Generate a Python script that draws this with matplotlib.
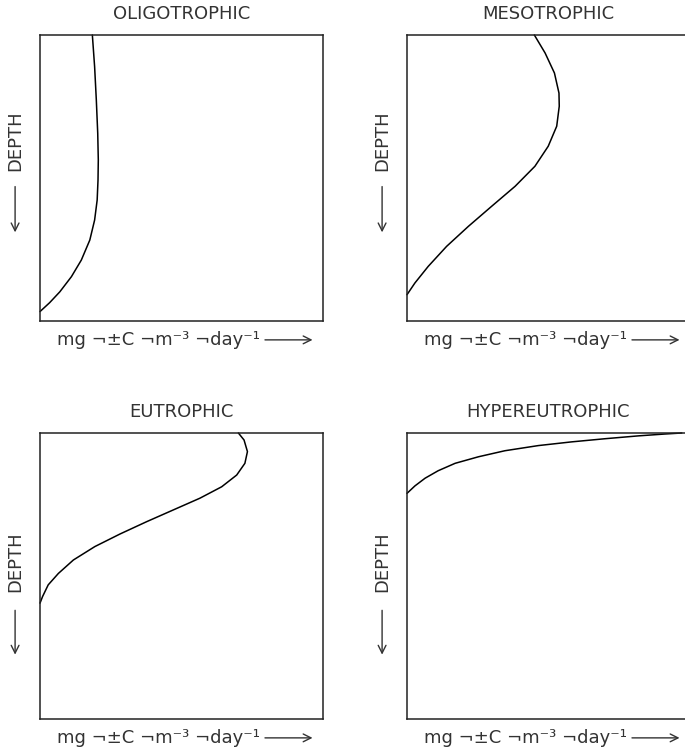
import numpy as np
import matplotlib
matplotlib.use("Agg")
import matplotlib.pyplot as plt

# panel titles, in reading order
titles = ["OLIGOTROPHIC", "MESOTROPHIC", "EUTROPHIC", "HYPEREUTROPHIC"]

# production (fraction of panel width) vs depth (fraction of panel height, 0 = surface)
oligo_depth = [0.0, 0.111, 0.227, 0.344, 0.437, 0.507, 0.577, 0.647, 0.717, 0.787,
               0.845, 0.898, 0.936, 0.967]
oligo_prod = [0.185, 0.193, 0.199, 0.204, 0.206, 0.205, 0.202, 0.193, 0.176, 0.146,
              0.111, 0.070, 0.034, 0.0]

meso_depth = [0.0, 0.063, 0.133, 0.203, 0.249, 0.319, 0.389, 0.459, 0.529, 0.599,
              0.669, 0.739, 0.809, 0.867, 0.908]
meso_prod = [0.450, 0.488, 0.521, 0.537, 0.538, 0.529, 0.499, 0.452, 0.382, 0.299,
             0.217, 0.140, 0.075, 0.028, 0.0]

eu_depth = [0.0, 0.0245, 0.065, 0.106, 0.147, 0.188, 0.228, 0.269, 0.310, 0.353,
            0.397, 0.444, 0.491, 0.531, 0.572, 0.595]
eu_prod = [0.701, 0.721, 0.733, 0.724, 0.695, 0.642, 0.565, 0.471, 0.377, 0.283,
           0.194, 0.118, 0.065, 0.029, 0.009, 0.0]

hyper_depth = [0.211, 0.185, 0.158, 0.132, 0.106, 0.083, 0.062, 0.044, 0.031, 0.020,
               0.010, 0.0035, 0.0]
hyper_prod = [0.0, 0.028, 0.064, 0.110, 0.170, 0.253, 0.346, 0.464, 0.582, 0.700,
              0.818, 0.912, 0.971]

curves = [(oligo_prod, oligo_depth), (meso_prod, meso_depth),
          (eu_prod, eu_depth), (hyper_prod, hyper_depth)]

# where the "DEPTH" label sits (axes fraction), top row vs bottom row
depth_text_y = [0.63, 0.63, 0.55, 0.55]
depth_arrow_y = [(0.47, 0.31), (0.47, 0.31), (0.38, 0.225), (0.38, 0.225)]

plt.rcParams['font.family'] = ['DejaVu Sans']
txt_col = "#333333"

fig = plt.figure(figsize=(6.85, 7.52), dpi=100)

W, H = 685.0, 752.0
lefts = [40, 407, 40, 407]
tops = [35, 35, 433, 433]
pw, ph = 283, 286

for i in range(4):
    ax = fig.add_axes([lefts[i] / W, 1 - (tops[i] + ph) / H, pw / W, ph / H])
    x, y = curves[i]
    ax.plot(x, y, color="black", lw=1.1, solid_joinstyle="round",
            solid_capstyle="round", clip_on=False)
    ax.set_xlim(0, 1)
    ax.set_ylim(1, 0)
    ax.set_xticks([])
    ax.set_yticks([])
    for s in ax.spines.values():
        s.set_linewidth(1.1)
        s.set_color("#222222")

    ax.text(0.5, 1.072, titles[i], transform=ax.transAxes, ha="center", va="center",
            fontsize=13, color=txt_col)

    # x label with long arrow
    ax.text(0.06, -0.066, "mg ¬±C ¬m⁻³ ¬day⁻¹", transform=ax.transAxes,
            ha="left", va="center", fontsize=13, color=txt_col)
    ax.annotate("", xy=(0.963, -0.066), xytext=(0.795, -0.066),
                xycoords="axes fraction", textcoords="axes fraction",
                arrowprops=dict(arrowstyle="->", color=txt_col, lw=1.0,
                                mutation_scale=14, shrinkA=0, shrinkB=0),
                annotation_clip=False)

    # DEPTH label with downward arrow
    ax.text(-0.088, depth_text_y[i], "DEPTH", transform=ax.transAxes, rotation=90,
            ha="center", va="center", fontsize=13, color=txt_col)
    a0, a1 = depth_arrow_y[i]
    ax.annotate("", xy=(-0.088, a1), xytext=(-0.088, a0),
                xycoords="axes fraction", textcoords="axes fraction",
                arrowprops=dict(arrowstyle="->", color=txt_col, lw=1.0,
                                mutation_scale=14, shrinkA=0, shrinkB=0),
                annotation_clip=False)

fig.savefig("out.png", dpi=100)
